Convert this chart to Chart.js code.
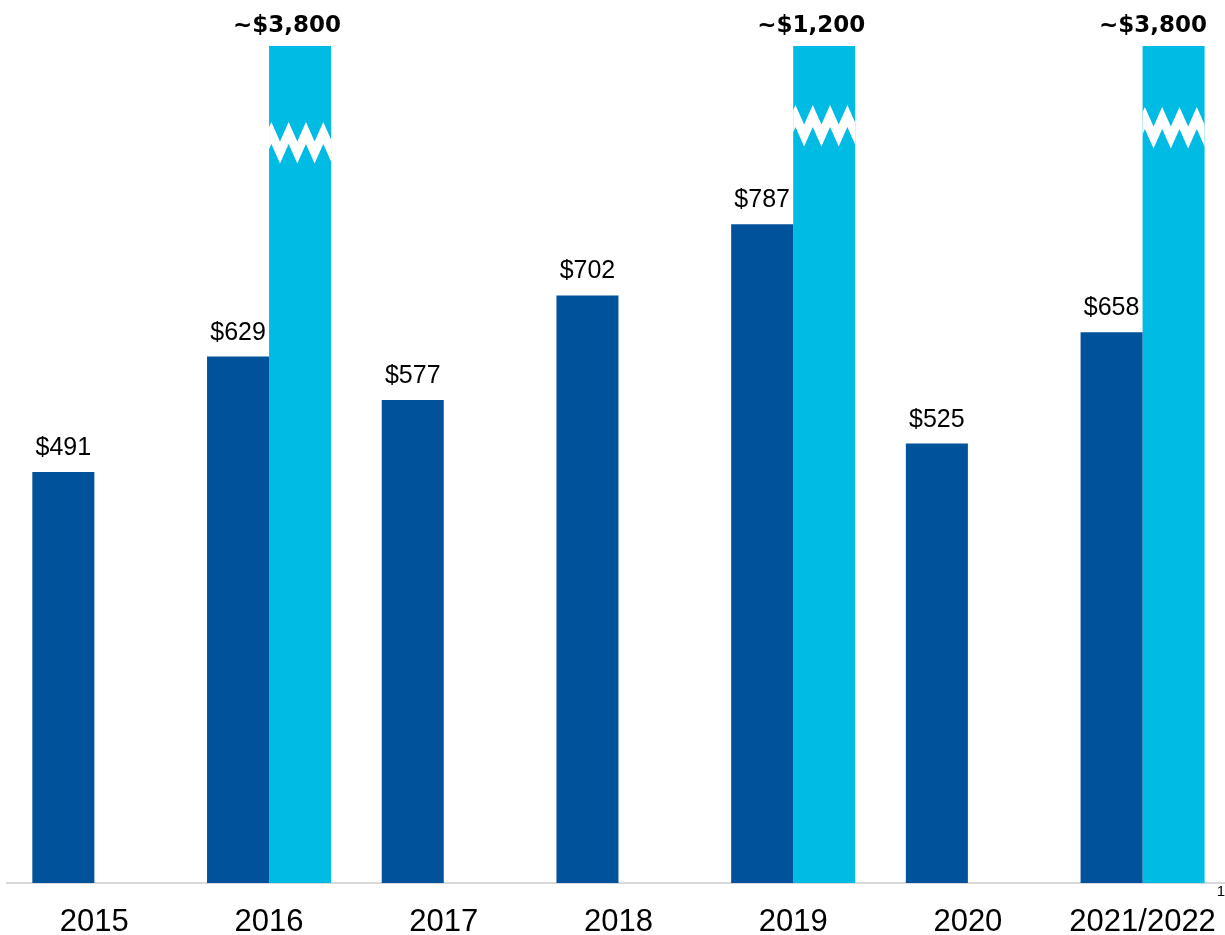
<!DOCTYPE html>
<html>
<head>
<meta charset="utf-8">
<script src="https://cdn.jsdelivr.net/npm/chart.js@4.4.0/dist/chart.umd.min.js"></script>
<style>
  html, body { margin: 0; padding: 0; background: #fff; overflow: hidden; }
  #wrap { width: 1237px; height: 935px; }
</style>
</head>
<body>
<div id="wrap"><canvas id="cost-chart" width="1237" height="935"></canvas></div>
<script>
var years = ["2015", "2016", "2017", "2018", "2019", "2020", "2021/2022"];
var baseCost = [491, 629, 577, 702, 787, 525, 658];
var spikeCost = [null, 3800, null, null, 1200, null, 3800];
var axisMax = 1000;
var footnoteMark = "1";

var DARK = "#00539b";
var LIGHT = "#00bbe3";

// white zig-zag band marking a bar that runs off the top of the axis;
// top is the y of the band's upper peaks
function drawBreak(ctx, left, right, top) {
  var period = 17.3, first = 2.3, amp = 19.5, thick = 22;
  var xs = [];
  for (var x = left + first - period; x <= right + period; x += period / 2) xs.push(x);
  ctx.save();
  ctx.beginPath();
  ctx.rect(left, top - 5, right - left, amp + thick + 10);
  ctx.clip();
  ctx.beginPath();
  xs.forEach(function (x, i) {
    var y = i % 2 === 0 ? top : top + amp;
    if (i === 0) ctx.moveTo(x, y); else ctx.lineTo(x, y);
  });
  for (var i = xs.length - 1; i >= 0; i--) {
    ctx.lineTo(xs[i], (i % 2 === 0 ? top : top + amp) + thick);
  }
  ctx.closePath();
  ctx.fillStyle = "#fff";
  ctx.fill();
  ctx.restore();
}

var barNotes = {
  id: "barNotes",
  afterDatasetsDraw: function (chart, args, opts) {
    var ctx = chart.ctx;
    var area = chart.chartArea;

    ctx.save();
    ctx.fillStyle = "#000";
    ctx.textAlign = "center";
    ctx.textBaseline = "alphabetic";

    // plain value labels over the dark bars
    ctx.font = "25px 'Liberation Sans', Arial, sans-serif";
    chart.getDatasetMeta(0).data.forEach(function (bar, i) {
      ctx.fillText("$" + baseCost[i], bar.x, bar.y - 17);
    });

    // broken light bars with their approximate totals
    ctx.font = "bold 23px 'DejaVu Sans', sans-serif";
    chart.getDatasetMeta(1).data.forEach(function (bar, i) {
      var v = spikeCost[i];
      if (v == null) return;
      var half = bar.width / 2;
      if (v > axisMax && opts.breaks[i] != null) {
        drawBreak(ctx, bar.x - half, bar.x + half, area.top + opts.breaks[i]);
      }
      var text = "~$" + v.toLocaleString("en-US");
      var w = ctx.measureText(text).width;
      var cx = Math.min(bar.x - 13, 1207 - w / 2);
      ctx.fillText(text, cx, 32);
    });
    ctx.restore();
  },
  afterDraw: function (chart) {
    // footnote marker after the last category label
    var ctx = chart.ctx;
    var xs = chart.scales.x;
    var last = years.length - 1;
    ctx.save();
    ctx.font = "31px 'Liberation Sans', Arial, sans-serif";
    var w = ctx.measureText(years[last]).width;
    ctx.font = "15px 'Liberation Sans', Arial, sans-serif";
    ctx.fillStyle = "#000";
    ctx.textAlign = "left";
    ctx.textBaseline = "alphabetic";
    ctx.fillText(footnoteMark, xs.getPixelForTick(last) + w / 2 + 1, 896);
    ctx.restore();
  }
};

var ctx = document.getElementById("cost-chart").getContext("2d");

new Chart(ctx, {
  type: "bar",
  data: {
    labels: years,
    datasets: [
      {
        data: baseCost,
        backgroundColor: DARK,
        categoryPercentage: 0.71,
        barPercentage: 1,
        clip: 0
      },
      {
        data: spikeCost,
        backgroundColor: LIGHT,
        categoryPercentage: 0.71,
        barPercentage: 1,
        clip: 0
      }
    ]
  },
  options: {
    responsive: false,
    animation: false,
    layout: { padding: { left: 7, right: 2, top: 46, bottom: 0 } },
    plugins: {
      legend: { display: false },
      tooltip: { enabled: false },
      barNotes: { breaks: { 1: 76, 4: 59, 6: 61 } }
    },
    scales: {
      x: {
        grid: { display: false, drawTicks: false },
        border: { display: true, color: "#d9d9d9", width: 2 },
        ticks: {
          color: "#000",
          font: { family: "'Liberation Sans', Arial, sans-serif", size: 31 },
          padding: 21,
          maxRotation: 0,
          autoSkip: false
        },
        afterFit: function (scale) { scale.height = 52; }
      },
      y: { display: false, min: 0, max: axisMax }
    }
  },
  plugins: [barNotes]
});
</script>
</body>
</html>
